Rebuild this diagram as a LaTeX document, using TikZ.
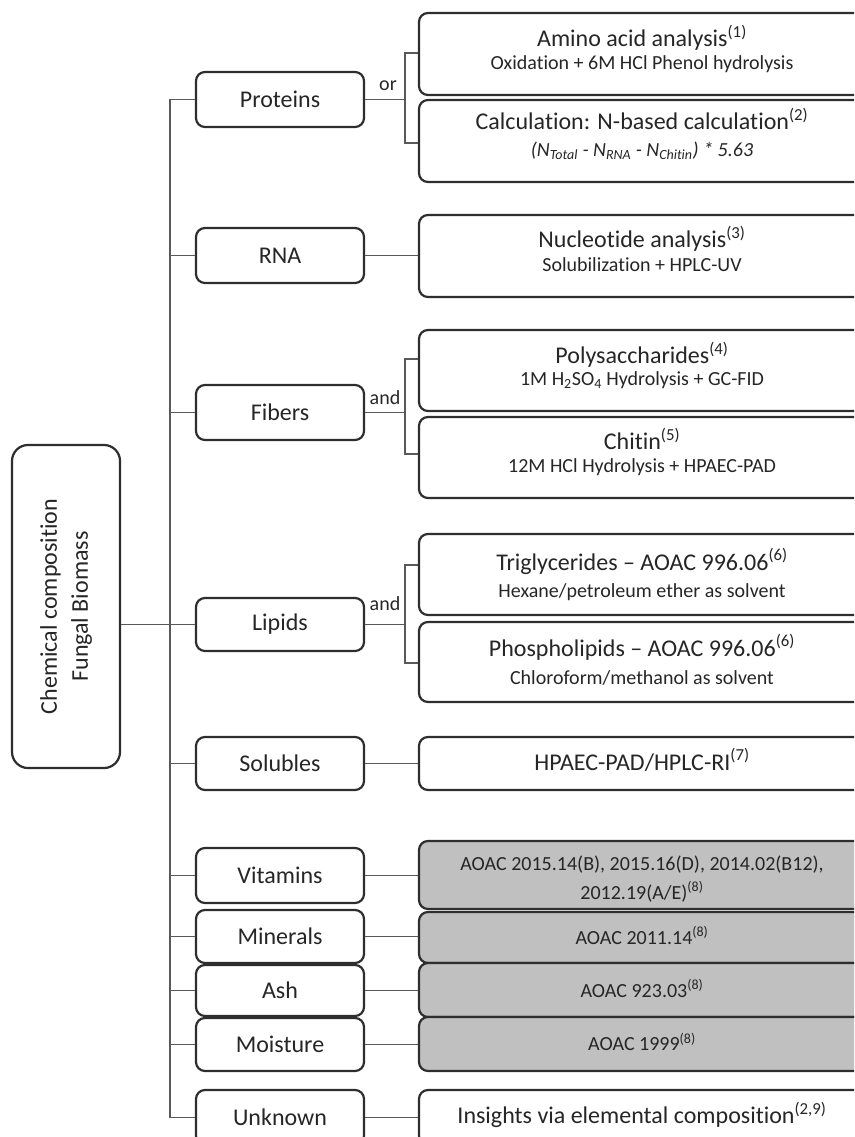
\documentclass[tikz,border=0pt]{standalone}
\usepackage{fontspec}
\setmainfont{Carlito}[Ligatures={NoCommon}]
\usetikzlibrary{calc}
\definecolor{boxgray}{RGB}{192,192,192}
\definecolor{txt}{RGB}{38,38,38}
\begin{document}
\begin{tikzpicture}[x=1pt,y=-1pt,
  box/.style={draw=black!82, line width=2.2pt, rounded corners=9pt, inner sep=0pt, text=txt, fill=white},
  cat/.style={box, minimum width=168pt, font=\fontsize{24}{28}\selectfont},
  rbox/.style={box, minimum width=446pt},
  gbox/.style={rbox, fill=boxgray},
  ttl/.style={anchor=base, inner sep=0pt, text=txt, font=\fontsize{24}{28}\selectfont},
  sub/.style={anchor=base, inner sep=0pt, text=txt, font=\fontsize{20}{24}\selectfont},
  lbl/.style={anchor=base, inner sep=0pt, text=txt, font=\fontsize{20}{24}\selectfont},
  conn/.style={draw=black!65, line width=1.5pt}
]
\useasboundingbox (0,0) rectangle (854,1137);
\clip (0,0) rectangle (854,1137);

% root
\node[box, rounded corners=16pt, minimum width=108pt, minimum height=323pt] (root) at (66,606.5) {};
\node[rotate=90, align=center, inner sep=0pt, text=txt, font=\fontsize{24}{31}\selectfont] (roottxt) at (66,606.5) {Chemical composition\\Fungal Biomass};

% categories
\node[cat, minimum height=55pt] (prot) at (280,99.5) {Proteins};
\node[cat, minimum height=55pt] (rna) at (280,255.5) {RNA};
\node[cat, minimum height=55pt] (fib) at (280,412.5) {Fibers};
\node[cat, minimum height=53pt] (lip) at (280,624.5) {Lipids};
\node[cat, minimum height=53pt] (sol) at (280,763.5) {Solubles};
\node[cat, minimum height=55pt] (vit) at (280,875.5) {Vitamins};
\node[cat, minimum height=53pt] (min) at (280,936.5) {Minerals};
\node[cat, minimum height=51pt] (ash) at (280,990.5) {Ash};
\node[cat, minimum height=53pt] (moi) at (280,1044.5) {Moisture};
\node[cat, minimum height=55pt] (unk) at (280,1117.5) {Unknown};

% method boxes
\node[rbox, minimum height=82pt] (aa) at (642,54) {};
\node[rbox, minimum height=82pt] (calc) at (642,141) {};
\node[rbox, minimum height=82pt] (nuc) at (642,256) {};
\node[rbox, minimum height=81pt] (poly) at (642,370.5) {};
\node[rbox, minimum height=81pt] (chit) at (642,457.5) {};
\node[rbox, minimum height=81pt] (tri) at (642,574.5) {};
\node[rbox, minimum height=80pt] (pho) at (642,662) {};
\node[rbox, minimum height=53pt] (hpa) at (642,763.5) {};
\node[gbox, minimum height=68pt] (gvit) at (642,875) {};
\node[gbox, minimum height=51pt] (gmin) at (642,937.5) {};
\node[gbox, minimum height=54pt] (gash) at (642,990) {};
\node[gbox, minimum height=54pt] (gmoi) at (642,1044) {};
\node[rbox, minimum height=55pt] (ins) at (642,1117.5) {};

% method texts
\node[ttl] (aat) at (642,46.7) {Amino acid analysis\textsuperscript{(1)}};
\node[sub] (aas) at (642,69.3) {Oxidation + 6M HCl Phenol hydrolysis};
\node[ttl] (calct) at (642,130) {Calculation: N-based calculation\textsuperscript{(2)}};
\node[sub] (calcs) at (642,156.7) {\itshape (N\textsubscript{Total} - N\textsubscript{RNA} - N\textsubscript{Chitin}) * 5.63};
\node[ttl] (nuct) at (642,247.7) {Nucleotide analysis\textsuperscript{(3)}};
\node[sub] (nucs) at (642,271.7) {Solubilization + HPLC-UV};
\node[ttl] (polyt) at (642,363.3) {Polysaccharides\textsuperscript{(4)}};
\node[sub] (polys) at (642,385.7) {1M H\textsubscript{2}SO\textsubscript{4} Hydrolysis + GC-FID};
\node[ttl] (chitt) at (642,449.3) {Chitin\textsuperscript{(5)}};
\node[sub] (chits) at (642,472.7) {12M HCl Hydrolysis + HPAEC-PAD};
\node[ttl] (trit) at (642,570) {Triglycerides – AOAC 996.06\textsuperscript{(6)}};
\node[sub] (tris) at (642,597.3) {Hexane/petroleum ether as solvent};
\node[ttl] (phot) at (642,656) {Phospholipids – AOAC 996.06\textsuperscript{(6)}};
\node[sub] (phos) at (642,684) {Chloroform/methanol as solvent};
\node[ttl] (hpat) at (642,770) {HPAEC-PAD/HPLC-RI\textsuperscript{(7)}};
\node[sub] (gvit1) at (642,870.7) {AOAC 2015.14(B), 2015.16(D), 2014.02(B12),};
\node[sub] (gvit2) at (642,899.3) {2012.19(A/E)\textsuperscript{(8)}};
\node[sub] (gmint) at (642,944) {AOAC 2011.14\textsuperscript{(8)}};
\node[sub] (gasht) at (642,997.3) {AOAC 923.03\textsuperscript{(8)}};
\node[sub] (gmoit) at (642,1050.7) {AOAC 1999\textsuperscript{(8)}};
\node[ttl] (inst) at (642,1123.3) {Insights via elemental composition\textsuperscript{(2,9)}};

% connector labels
\node[lbl] (or1) at (388,91) {or};
\node[lbl] (and1) at (385,404) {and};
\node[lbl] (and2) at (385,610) {and};

% trunk
\coordinate (tt) at (170,99.5);
\draw[conn] (prot.west) -- (tt) -- (tt |- unk.west) -- (unk.west);
\foreach \c in {rna,fib,lip,sol,vit,min,ash,moi} {
  \draw[conn] (\c.west) -- (\c.west -| tt);
}
\draw[conn] (root.east |- lip.west) -- (tt |- lip.west);

% brackets
\coordinate (pb1) at (405,53);
\coordinate (pb2) at (405,143);
\draw[conn] (prot.east) -- (prot.east -| pb1);
\draw[conn] (aa.west |- pb1) -- (pb1) -- (pb2) -- (calc.west |- pb2);
\coordinate (fb1) at (405,359);
\coordinate (fb2) at (405,454);
\draw[conn] (fib.east) -- (fib.east -| fb1);
\draw[conn] (poly.west |- fb1) -- (fb1) -- (fb2) -- (chit.west |- fb2);
\coordinate (lb1) at (405,565);
\coordinate (lb2) at (405,663);
\draw[conn] (lip.east) -- (lip.east -| lb1);
\draw[conn] (tri.west |- lb1) -- (lb1) -- (lb2) -- (pho.west |- lb2);

% direct links
\draw[conn] (rna.east) -- (rna.east -| nuc.west);
\draw[conn] (sol.east) -- (sol.east -| hpa.west);
\draw[conn] (vit.east) -- (vit.east -| gvit.west);
\draw[conn] (min.east) -- (min.east -| gmin.west);
\draw[conn] (ash.east) -- (ash.east -| gash.west);
\draw[conn] (moi.east) -- (moi.east -| gmoi.west);
\draw[conn] (unk.east) -- (unk.east -| ins.west);
\end{tikzpicture}
\end{document}
